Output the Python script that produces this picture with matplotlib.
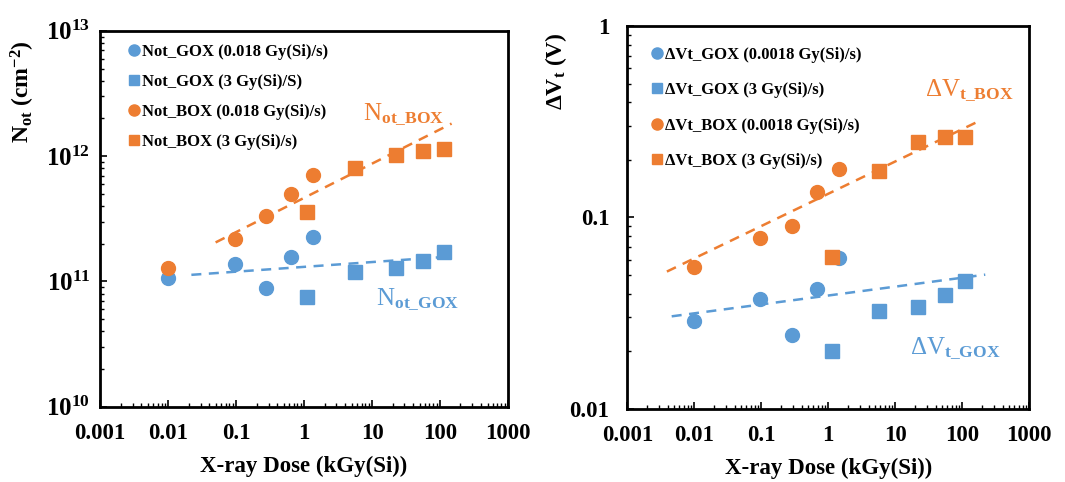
import numpy as np
import matplotlib
matplotlib.use('Agg')
import matplotlib.pyplot as plt
from matplotlib.ticker import LogLocator, NullFormatter

plt.rcParams['font.family'] = 'Liberation Serif'
plt.rcParams['font.weight'] = 'bold'
plt.rcParams['mathtext.fontset'] = 'custom'
plt.rcParams['mathtext.rm'] = 'Liberation Serif'
plt.rcParams['mathtext.it'] = 'Liberation Serif'
plt.rcParams['mathtext.bf'] = 'Liberation Serif:bold'

BLUE = '#5B9BD5'
ORANGE = '#ED7D31'

# ---- left panel data: Not (cm^-2) vs dose (kGy(Si)) ----
not_gox_low_x = [0.01, 0.095, 0.28, 0.65, 1.36]
not_gox_low_y = [1.06e11, 1.38e11, 8.9e10, 1.58e11, 2.25e11]
not_gox_high_x = [1.1, 5.6, 22.5, 57, 113]
not_gox_high_y = [7.5e10, 1.2e11, 1.28e11, 1.47e11, 1.73e11]
not_box_low_x = [0.01, 0.095, 0.28, 0.65, 1.36]
not_box_low_y = [1.29e11, 2.17e11, 3.34e11, 4.95e11, 7.07e11]
not_box_high_x = [1.1, 5.6, 22.5, 57, 113]
not_box_high_y = [3.6e11, 7.98e11, 1.02e12, 1.1e12, 1.15e12]
# trend line end points
not_box_trend_x = [0.05, 148]
not_box_trend_y = [2.05e11, 1.82e12]
not_gox_trend_x = [0.022, 137]
not_gox_trend_y = [1.13e11, 1.58e11]

# ---- right panel data: dVt (V) vs dose ----
dvt_gox_low_x = [0.01, 0.095, 0.29, 0.67, 1.44]
dvt_gox_low_y = [0.0286, 0.0375, 0.0243, 0.0423, 0.0611]
dvt_gox_high_x = [1.12, 5.65, 21.8, 54.5, 111]
dvt_gox_high_y = [0.020, 0.0324, 0.0342, 0.0394, 0.0464]
dvt_box_low_x = [0.01, 0.095, 0.29, 0.67, 1.44]
dvt_box_low_y = [0.0548, 0.0783, 0.090, 0.135, 0.179]
dvt_box_high_x = [1.12, 5.65, 21.8, 54.5, 111]
dvt_box_high_y = [0.0624, 0.175, 0.249, 0.264, 0.264]
dvt_box_trend_x = [0.0039, 196]
dvt_box_trend_y = [0.0521, 0.324]
dvt_gox_trend_x = [0.0046, 220]
dvt_gox_trend_y = [0.0304, 0.0502]

x_ticks = [0.001, 0.01, 0.1, 1, 10, 100, 1000]
x_ticklabels = ['0.001', '0.01', '0.1', '1', '10', '100', '1000']
left_yticks = [1e10, 1e11, 1e12, 1e13]
left_yticklabels = [r'10$^{\mathbf{10}}$', r'10$^{\mathbf{11}}$',
                    r'10$^{\mathbf{12}}$', r'10$^{\mathbf{13}}$']
right_yticks = [0.01, 0.1, 1]
right_yticklabels = ['0.01', '0.1', '1']

left_labels = ['Not_GOX (0.018 Gy(Si)/s)', 'Not_GOX (3 Gy(Si)/S)',
               'Not_BOX (0.018 Gy(Si)/s)', 'Not_BOX (3 Gy(Si)/s)']
right_labels = ['ΔVt_GOX (0.0018 Gy(Si)/s)', 'ΔVt_GOX (3 Gy(Si)/s)',
                'ΔVt_BOX (0.0018 Gy(Si)/s)', 'ΔVt_BOX (3 Gy(Si)/s)']

fig = plt.figure(figsize=(10.65, 4.82), dpi=100)
ax1 = fig.add_axes([0.094, 0.156, 0.383, 0.780])
ax2 = fig.add_axes([0.589, 0.152, 0.3775, 0.794])


def style_axes(ax, yticks, yticklabels, ylim, ysize, ypad):
    ax.set_xscale('log')
    ax.set_yscale('log')
    ax.set_xlim(0.001, 1000)
    ax.set_ylim(*ylim)
    ax.set_xticks(x_ticks)
    ax.set_xticklabels(x_ticklabels, fontsize=16.5, fontweight='bold')
    ax.set_yticks(yticks)
    ax.set_yticklabels(yticklabels, fontsize=ysize, fontweight='bold')
    ax.xaxis.set_minor_locator(LogLocator(base=10, subs=np.arange(2, 10), numticks=20))
    ax.yaxis.set_minor_locator(LogLocator(base=10, subs=np.arange(2, 10), numticks=20))
    ax.xaxis.set_minor_formatter(NullFormatter())
    ax.yaxis.set_minor_formatter(NullFormatter())
    ax.tick_params(which='major', direction='in', length=5, width=1.2)
    ax.tick_params(which='minor', direction='in', length=3, width=1.0)
    ax.tick_params(axis='x', which='major', pad=12)
    ax.tick_params(axis='y', which='major', pad=ypad)
    for s in ax.spines.values():
        s.set_linewidth(2)
    ax.set_xlabel('X-ray Dose (kGy(Si))', fontsize=16.5, fontweight='bold', labelpad=8)


def top_ylabel(ax, text, x, y):
    # label hung from the top of the axes, like the original
    lab = ax.set_ylabel(text, fontsize=17, fontweight='bold')
    ax.yaxis.set_label_coords(x, y)
    lab.set_rotation_mode('anchor')
    lab.set_horizontalalignment('right')
    lab.set_verticalalignment('center')


ms = 10
ax1.plot(not_gox_low_x, not_gox_low_y, 'o', color=BLUE, ms=ms, label=left_labels[0])
ax1.plot(not_gox_high_x, not_gox_high_y, 's', color=BLUE, ms=ms - 0.5, label=left_labels[1])
ax1.plot(not_box_low_x, not_box_low_y, 'o', color=ORANGE, ms=ms, label=left_labels[2])
ax1.plot(not_box_high_x, not_box_high_y, 's', color=ORANGE, ms=ms - 0.5, label=left_labels[3])
ax1.plot(not_box_trend_x, not_box_trend_y, '--', color=ORANGE, lw=1.8, dashes=(4, 3))
ax1.plot(not_gox_trend_x, not_gox_trend_y, '--', color=BLUE, lw=1.8, dashes=(4, 3))
style_axes(ax1, left_yticks, left_yticklabels, (1e10, 1e13), 18, 7)
top_ylabel(ax1, r'N$_{\mathbf{ot}}$ (cm$^{\mathbf{-2}}$)', -0.19, 0.976)
ax1.text(0.645, 0.777, r'N$_{\mathrm{ot\_BOX}}$', transform=ax1.transAxes,
         color=ORANGE, fontsize=18, fontweight='normal', va='center')
ax1.text(0.676, 0.285, r'N$_{\mathrm{ot\_GOX}}$', transform=ax1.transAxes,
         color=BLUE, fontsize=18, fontweight='normal', va='center')
ax1.legend(loc='upper left', bbox_to_anchor=(0.015, 1.005), frameon=False,
           prop={'size': 12, 'weight': 'bold'}, handletextpad=-0.25,
           handlelength=1.5, labelspacing=0.84, markerscale=0.8)

ax2.plot(dvt_gox_low_x, dvt_gox_low_y, 'o', color=BLUE, ms=ms, label=right_labels[0])
ax2.plot(dvt_gox_high_x, dvt_gox_high_y, 's', color=BLUE, ms=ms - 0.5, label=right_labels[1])
ax2.plot(dvt_box_low_x, dvt_box_low_y, 'o', color=ORANGE, ms=ms, label=right_labels[2])
ax2.plot(dvt_box_high_x, dvt_box_high_y, 's', color=ORANGE, ms=ms - 0.5, label=right_labels[3])
ax2.plot(dvt_box_trend_x, dvt_box_trend_y, '--', color=ORANGE, lw=1.8, dashes=(4, 3))
ax2.plot(dvt_gox_trend_x, dvt_gox_trend_y, '--', color=BLUE, lw=1.8, dashes=(4, 3))
style_axes(ax2, right_yticks, right_yticklabels, (0.01, 1), 16.5, 13)
top_ylabel(ax2, r'ΔV$_{\mathbf{t}}$ (V)', -0.177, 0.984)
ax2.text(0.741, 0.833, r'ΔV$_{\mathrm{t\_BOX}}$', transform=ax2.transAxes,
         color=ORANGE, fontsize=18, fontweight='normal', va='center')
ax2.text(0.704, 0.159, r'ΔV$_{\mathrm{t\_GOX}}$', transform=ax2.transAxes,
         color=BLUE, fontsize=18, fontweight='normal', va='center')
ax2.legend(loc='upper left', bbox_to_anchor=(0.005, 0.985), frameon=False,
           prop={'size': 12, 'weight': 'bold'}, handletextpad=-0.25,
           handlelength=1.5, labelspacing=1.17, markerscale=0.8)

fig.savefig('out.png', dpi=100)
